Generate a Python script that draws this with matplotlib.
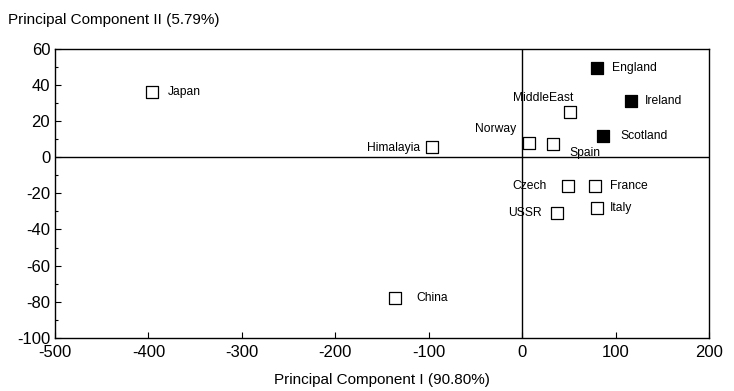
import matplotlib
matplotlib.use("Agg")
import matplotlib.pyplot as plt
import matplotlib.ticker as ticker

plt.rcParams.update({
    "font.family": ["Liberation Sans", "DejaVu Sans"],
    "font.size": 11,
    "axes.unicode_minus": False,
})

# countries, PC scores, whether filled
countries = ["Japan", "Himalayia", "Norway", "Spain", "MiddleEast", "England",
             "Ireland", "Scotland", "Czech", "France", "Italy", "USSR", "China"]
pc1 = [-396, -96, 7, 33, 51, 80, 117, 87, 49, 78, 80, 37, -136]
pc2 = [36, 5.5, 8, 7.5, 25, 49.5, 31, 12, -16, -16, -28, -31, -78]
filled = [False, False, False, False, False, True, True, True, False, False, False, False, False]

# label placement: (dx, dy) in pixels, ha, va
label_pos = {
    "Japan": (16, 0, "left", "center"),
    "Himalayia": (-12, -1, "right", "center"),
    "Norway": (-12, 14, "right", "center"),
    "Spain": (16, -9, "left", "center"),
    "MiddleEast": (-27, 14, "center", "center"),
    "England": (15, 0, "left", "center"),
    "Ireland": (13, 0, "left", "center"),
    "Scotland": (17, 0, "left", "center"),
    "Czech": (-21, 0, "right", "center"),
    "France": (15, 0, "left", "center"),
    "Italy": (13, 0, "left", "center"),
    "USSR": (-15, 0, "right", "center"),
    "China": (21, 0, "left", "center"),
}

fig = plt.figure(figsize=(7.34, 3.91), dpi=100)
ax = fig.add_axes([0.075, 0.136, 0.891, 0.739])

ax.axhline(0, color="black", linewidth=1.0, zorder=1)
ax.axvline(0, color="black", linewidth=1.0, zorder=1)

for name, x, y, f in zip(countries, pc1, pc2, filled):
    ax.scatter(x, y, marker="s", s=75, facecolor="black" if f else "white",
               edgecolor="black", linewidth=0.9, zorder=3)
    dx, dy, ha, va = label_pos[name]
    ax.annotate(name, (x, y), xytext=(dx * 0.72, dy * 0.72), textcoords="offset points",
                ha=ha, va=va, fontsize=8.7)

ax.set_xlim(-500, 200)
ax.set_ylim(-100, 60)
ax.xaxis.set_major_locator(ticker.MultipleLocator(100))
ax.yaxis.set_major_locator(ticker.MultipleLocator(20))
ax.yaxis.set_minor_locator(ticker.MultipleLocator(10))
ax.tick_params(which="both", direction="in", top=False, right=False, width=0.8)
ax.tick_params(which="major", length=4, labelsize=12)
ax.tick_params(axis="x", pad=5.5)
ax.tick_params(which="minor", length=2)
for s in ax.spines.values():
    s.set_linewidth(1.0)

ax.set_xlabel("Principal Component I (90.80%)", fontsize=11, labelpad=9)
fig.text(0.011, 0.948, "Principal Component II (5.79%)", fontsize=11, ha="left", va="center")

fig.savefig("out.png", dpi=100)
